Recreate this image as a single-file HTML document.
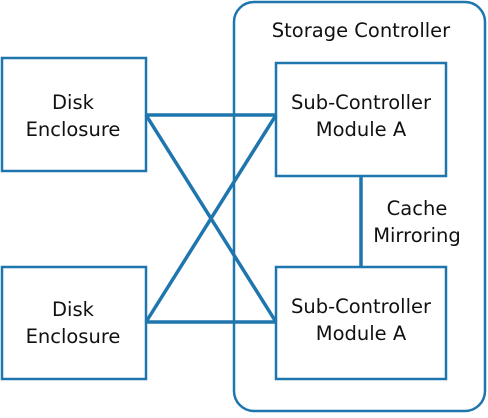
<!DOCTYPE html>
<html><head><style>
body{margin:0;background:#fff;}
</style></head><body>
<svg width="488" height="413" xmlns="http://www.w3.org/2000/svg">
<g fill="none" stroke="#1f76ae">
<rect x="234" y="2" width="251" height="409" rx="20" stroke-width="2.5"/>
<rect x="2" y="58" width="144" height="113" stroke-width="2.5"/>
<rect x="2" y="267" width="144" height="112" stroke-width="2.5"/>
<rect x="276" y="63" width="170" height="113" stroke-width="2.5"/>
<rect x="276" y="267" width="170" height="112" stroke-width="2.5"/>
<g stroke-width="3.5">
<line x1="146" y1="115" x2="276" y2="115"/>
<line x1="146" y1="322" x2="276" y2="322"/>
<line x1="146" y1="115" x2="276" y2="322"/>
<line x1="146" y1="322" x2="276" y2="115"/>
<line x1="361" y1="176" x2="361" y2="267"/>
</g>
</g>
<g font-family="DejaVu Sans, Liberation Sans, sans-serif" font-size="19.5" fill="#111" text-anchor="middle">
<text x="361" y="37">Storage Controller</text>
<text x="73" y="109">Disk</text>
<text x="73" y="136">Enclosure</text>
<text x="73" y="316">Disk</text>
<text x="73" y="343">Enclosure</text>
<text x="361" y="109">Sub-Controller</text>
<text x="361" y="136">Module A</text>
<text x="361" y="313">Sub-Controller</text>
<text x="361" y="340">Module A</text>
<text x="417" y="215">Cache</text>
<text x="417" y="242">Mirroring</text>
</g>
</svg>
</body></html>
